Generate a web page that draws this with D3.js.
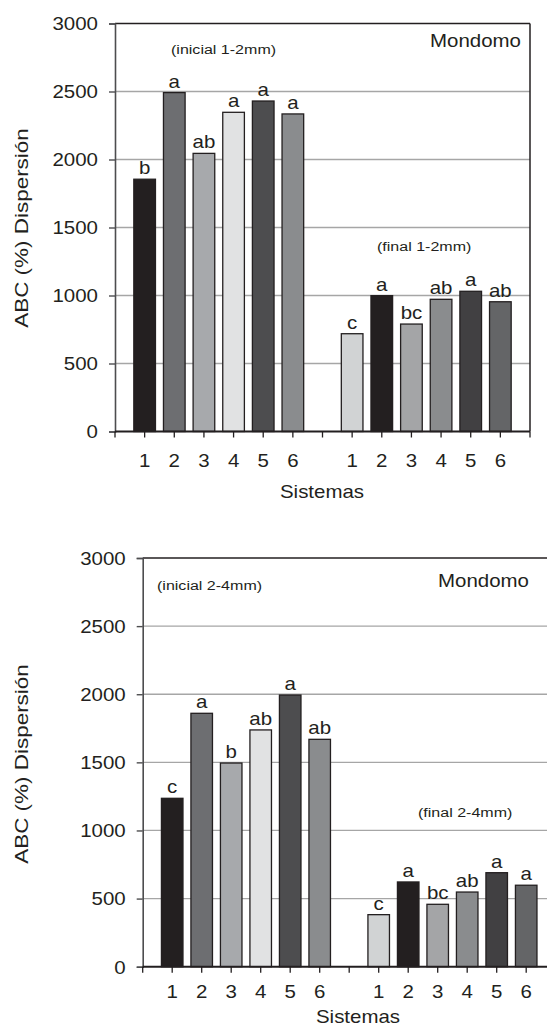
<!DOCTYPE html>
<html>
<head>
<meta charset="utf-8">
<script src="https://cdn.jsdelivr.net/npm/d3@7"></script>
<style>
  html, body { margin: 0; padding: 0; background: #fff; }
  svg { display: block; }
  text { font-family: "Liberation Sans", Arial, Helvetica, sans-serif; fill: #231f20; }
</style>
</head>
<body>
<svg id="chart" width="547" height="1027"></svg>
<script>
// ---------- data ----------
const sistemas = ["1", "2", "3", "4", "5", "6"];
const yTicks = [0, 500, 1000, 1500, 2000, 2500, 3000];

// Panel 1: 1-2 mm
const inicial12 = [1855, 2492, 2045, 2347, 2430, 2335];
const final12   = [719, 999, 790, 972, 1031, 954];
const letrasInicial12 = ["b", "a", "ab", "a", "a", "a"];
const letrasFinal12   = ["c", "a", "bc", "ab", "a", "ab"];

// Panel 2: 2-4 mm
const inicial24 = [1236, 1860, 1495, 1738, 1994, 1669];
const final24   = [382, 622, 458, 548, 690, 598];
const letrasInicial24 = ["c", "a", "b", "ab", "a", "ab"];
const letrasFinal24   = ["c", "a", "bc", "ab", "a", "a"];

const coloresInicial = ["#231f20", "#6d6e71", "#a7a9ac", "#e1e2e3", "#4d4d4f", "#8a8c8e"];
const coloresFinal   = ["#d1d3d4", "#231f20", "#a4a5a7", "#8a8c8e", "#414042", "#646567"];

const yTitle = "ABC (%) Dispersión";
const xTitle = "Sistemas";
const sitio = "Mondomo";

// ---------- drawing ----------
const S = 1.17;      // horizontal stretch of the original lettering
const FS = 17.5;     // main font size
const svg = d3.select("#chart");

function htext(parent, x, y, str, size, anchor) {
  return parent.append("text")
    .attr("transform", `translate(${x},${y}) scale(${S},1)`)
    .attr("text-anchor", anchor || "start")
    .attr("font-size", size)
    .text(str);
}

function panel(cfg) {
  const g = svg.append("g");
  // 13 category slots: 6 inicial, 1 empty gap, 6 final
  const keys = sistemas.map(s => "i" + s).concat(["gap"], sistemas.map(s => "f" + s));
  const labels = sistemas.concat([""], sistemas);
  const x = d3.scalePoint().domain(keys).range([cfg.x0, cfg.x1]).padding(1);
  const step = x.step();
  const barW = step * 0.73;
  const y = d3.scaleLinear().domain([0, 3000]).range([cfg.yBottom, cfg.yTop]);

  const bars = [];
  sistemas.forEach((s, i) => bars.push({k: "i" + s, v: cfg.inicial[i], c: coloresInicial[i], l: cfg.letrasI[i]}));
  sistemas.forEach((s, i) => bars.push({k: "f" + s, v: cfg.final[i], c: coloresFinal[i], l: cfg.letrasF[i]}));

  // gridlines
  g.append("g").selectAll("line").data(yTicks.filter(t => t > 0 && t < 3000)).join("line")
    .attr("x1", cfg.x0).attr("x2", cfg.x1)
    .attr("y1", d => y(d)).attr("y2", d => y(d))
    .attr("stroke", "#a6a6a6").attr("stroke-width", 1.3);

  // top border
  g.append("line").attr("x1", cfg.x0).attr("x2", cfg.x1)
    .attr("y1", y(3000)).attr("y2", y(3000))
    .attr("stroke", "#231f20").attr("stroke-width", 1.5);
  // right border
  g.append("line").attr("x1", cfg.x1).attr("x2", cfg.x1)
    .attr("y1", y(3000)).attr("y2", y(0))
    .attr("stroke", "#231f20").attr("stroke-width", 1.5);

  // bars
  g.append("g").selectAll("rect").data(bars).join("rect")
    .attr("x", d => x(d.k) - barW / 2)
    .attr("width", barW)
    .attr("y", d => y(d.v))
    .attr("height", d => y(0) - y(d.v))
    .attr("fill", d => d.c)
    .attr("stroke", "#231f20").attr("stroke-width", 1.3);

  // letters
  const lg = g.append("g");
  bars.forEach(d => htext(lg, x(d.k), y(d.v) - 5, d.l, FS, "middle"));

  // y axis
  const yAxis = d3.axisLeft(y).tickValues(yTicks).tickSize(6).tickPadding(11).tickFormat(d3.format("d"));
  const ya = g.append("g").attr("transform", `translate(${cfg.x0},0)`).call(yAxis);
  ya.select(".domain").attr("stroke", "#4d4d4f").attr("stroke-width", 1.6);
  ya.selectAll(".tick line").attr("stroke", "#4d4d4f").attr("stroke-width", 1.4);
  ya.selectAll(".tick text")
    .attr("font-size", FS).attr("font-family", null).attr("fill", "#231f20")
    .attr("x", -17 / S).attr("dy", "0.36em")
    .attr("transform", `scale(${S},1)`);

  // x axis
  const xa = g.append("g").attr("transform", `translate(0,${cfg.yBottom})`);
  const edgeTicks = [cfg.x0, cfg.x1];
  xa.append("line").attr("x1", cfg.x0).attr("x2", cfg.x1).attr("y1", 0).attr("y2", 0)
    .attr("stroke", "#231f20").attr("stroke-width", 2);
  xa.selectAll("line.tk").data(keys.map(k => x(k)).concat(edgeTicks)).join("line")
    .attr("class", "tk")
    .attr("x1", d => d).attr("x2", d => d).attr("y1", 0).attr("y2", 6)
    .attr("stroke", "#231f20").attr("stroke-width", 1.3);
  keys.forEach((k, i) => htext(xa, x(k), cfg.xLabelDy, labels[i], FS, "middle"));

  // titles
  htext(g, cfg.xTitleX, cfg.xTitleY, xTitle, FS, "middle");
  g.append("text")
    .attr("transform", `translate(${cfg.yTitleX},${cfg.yTitleY}) rotate(-90) scale(${S},1)`)
    .attr("text-anchor", "middle").attr("dominant-baseline", "central")
    .attr("font-size", 19.2).text(yTitle);

  // annotations
  htext(g, cfg.mondomo[0], cfg.mondomo[1], sitio, FS, "end");
  htext(g, cfg.annI[0], cfg.annI[1], cfg.annIText, 13.7, "start");
  htext(g, cfg.annF[0], cfg.annF[1], cfg.annFText, 13.7, "start");
}

panel({
  x0: 115, x1: 530, yTop: 23.5, yBottom: 431.5,
  inicial: inicial12, final: final12, letrasI: letrasInicial12, letrasF: letrasFinal12,
  xLabelDy: 35, xTitleX: 322, xTitleY: 498,
  yTitleX: 21, yTitleY: 228,
  mondomo: [521, 47], annI: [171, 54], annIText: "(inicial 1-2mm)",
  annF: [377, 251], annFText: "(final 1-2mm)"
});

panel({
  x0: 142.7, x1: 555.7, yTop: 558, yBottom: 966.7,
  inicial: inicial24, final: final24, letrasI: letrasInicial24, letrasF: letrasFinal24,
  xLabelDy: 31, xTitleX: 358, xTitleY: 1023,
  yTitleX: 21, yTitleY: 764,
  mondomo: [529, 587], annI: [157, 590], annIText: "(inicial 2-4mm)",
  annF: [418, 817], annFText: "(final 2-4mm)"
});
</script>
</body>
</html>
